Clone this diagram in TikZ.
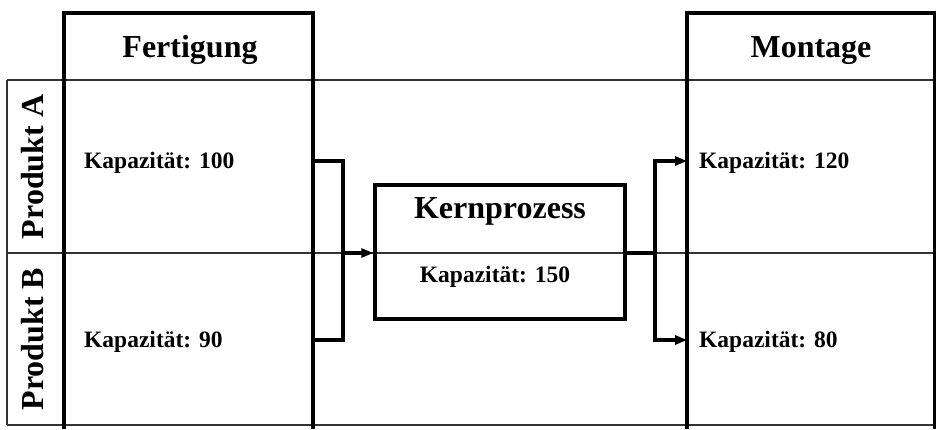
\documentclass[tikz,border=0pt]{standalone}
\usepackage{fontspec}
\setmainfont{Liberation Serif}
\usetikzlibrary{arrows.meta}
\begin{document}
\begin{tikzpicture}[x=1pt,y=-1pt,
  thickline/.style={line width=3.4pt},
  thinline/.style={line width=1.6pt, draw=black!80},
  flow/.style={line width=3.4pt, -{Triangle[length=12pt,width=9pt]}},
  joint/.style={line width=3.4pt},
  headtxt/.style={font=\fontsize{32}{36}\selectfont\bfseries, inner sep=0pt, anchor=base},
  rowtxt/.style={font=\fontsize{32}{36}\selectfont\bfseries, inner sep=0pt, anchor=base, rotate=90},
  captxt/.style={font=\fontsize{23.5}{27}\selectfont\bfseries, inner sep=0pt, anchor=base west},
  capmid/.style={font=\fontsize{23.5}{27}\selectfont\bfseries, inner sep=0pt, anchor=base}]
\useasboundingbox (0,0) rectangle (936,429);

% row grid
\draw[thinline] (7,80) -- (936,80);
\draw[thinline] (7,253) -- (936,253);
\draw[thinline] (7,425) -- (936,425);
\draw[thinline] (7,80) -- (7,425);

% department columns
\draw[thickline] (64,429) -- (64,13) -- (313,13) -- (313,429);
\draw[thickline] (687,429) -- (687,13) -- (935,13) -- (935,429);

% headings
\node[headtxt] (fert) at (190,57) {Fertigung};
\node[headtxt] (mont) at (811,57) {Montage};
\node[rowtxt] (prodA) at (43,167) {Produkt A};
\node[rowtxt] (prodB) at (43,339) {Produkt B};

% capacities
\node[captxt] (capFA) at (84,168) {Kapazität: 100};
\node[captxt] (capFB) at (84,347) {Kapazität: 90};
\node[captxt] (capMA) at (699,168) {Kapazität: 120};
\node[captxt] (capMB) at (699,347) {Kapazität: 80};

% core process
\node[draw, line width=3.4pt, minimum width=250pt, minimum height=134pt, inner sep=0pt] (kern) at (500,252) {};
\node[headtxt] (kernT) at (500,218) {Kernprozess};
\node[capmid] (kernC) at (495,282) {Kapazität: 150};

% connector end points
\coordinate (fA) at (313,161);
\coordinate (fB) at (313,340);
\coordinate (mA) at (687,161);
\coordinate (mB) at (687,340);
\coordinate (inJ) at (343,253);
\coordinate (outJ) at (655,253);

% merging flow into the core process
\draw[joint] (fA) -| (inJ);
\draw[joint] (fB) -| (inJ);
\draw[flow] (inJ) -- (kern.west |- inJ);

% splitting flow out to assembly
\draw[joint] (kern.east |- outJ) -- (outJ);
\draw[flow] (outJ) |- (mA);
\draw[flow] (outJ) |- (mB);
\end{tikzpicture}
\end{document}
